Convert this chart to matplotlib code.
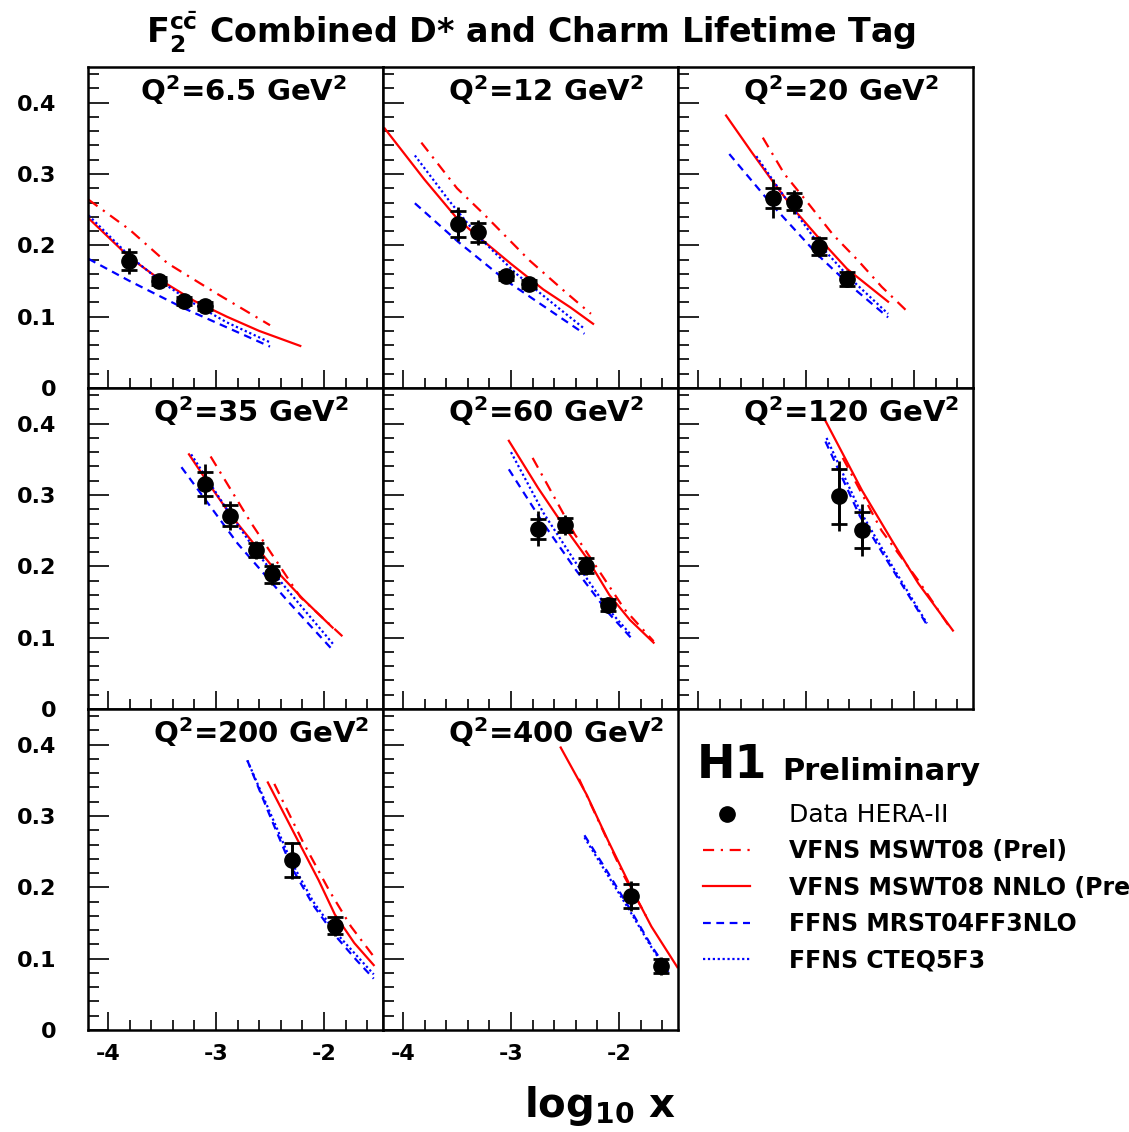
import numpy as np
import matplotlib.pyplot as plt
from matplotlib.ticker import MultipleLocator

plt.rcParams['font.family'] = ['DejaVu Sans']
plt.rcParams['mathtext.fontset'] = 'dejavusans'
plt.rcParams['axes.unicode_minus'] = False

q2_labels = ['6.5', '12', '20', '35', '60', '120', '200', '400']

# H1 data: log10 x, F2cc, stat and total errors
data_x = [[-3.81, -3.53, -3.30, -3.10],
          [-3.49, -3.31, -3.05, -2.83],
          [-3.31, -3.11, -2.88, -2.62],
          [-3.10, -2.87, -2.63, -2.48],
          [-2.75, -2.50, -2.31, -2.10],
          [-2.69, -2.48],
          [-2.30, -1.90],
          [-1.89, -1.61]]
data_y = [[0.178, 0.150, 0.122, 0.115],
          [0.230, 0.218, 0.157, 0.146],
          [0.266, 0.261, 0.198, 0.153],
          [0.315, 0.271, 0.223, 0.189],
          [0.253, 0.258, 0.201, 0.146],
          [0.298, 0.251],
          [0.238, 0.146],
          [0.188, 0.090]]
stat = [[0.012, 0.006, 0.006, 0.006],
        [0.018, 0.013, 0.006, 0.006],
        [0.014, 0.012, 0.012, 0.010],
        [0.017, 0.015, 0.010, 0.012],
        [0.014, 0.010, 0.010, 0.008],
        [0.038, 0.025],
        [0.024, 0.012],
        [0.017, 0.010]]
tot = [[0.018, 0.009, 0.008, 0.008],
       [0.024, 0.017, 0.009, 0.009],
       [0.027, 0.017, 0.015, 0.012],
       [0.028, 0.020, 0.013, 0.015],
       [0.024, 0.014, 0.013, 0.011],
       [0.049, 0.037],
       [0.026, 0.014],
       [0.021, 0.013]]

# VFNS MSWT08 (Prel)
prel_x = [[-4.18, -3.8, -3.45, -3.0, -2.5],
          [-3.83, -3.5, -3.26, -2.83, -2.5, -2.26],
          [-3.40, -3.2, -2.98, -2.75, -2.52, -2.3, -2.06],
          [-3.05, -2.68, -2.22, -1.83],
          [-2.80, -2.41, -1.95, -1.68],
          [-2.66, -2.3, -1.96, -1.68],
          [-2.46, -2.2, -1.95, -1.75, -1.55],
          [-2.37, -2.15, -1.95, -1.75]]
prel_y = [[0.264, 0.222, 0.175, 0.133, 0.088],
          [0.344, 0.280, 0.245, 0.179, 0.135, 0.104],
          [0.351, 0.300, 0.259, 0.215, 0.179, 0.142, 0.107],
          [0.354, 0.262, 0.157, 0.102],
          [0.352, 0.245, 0.140, 0.095],
          [0.352, 0.250, 0.180, 0.117],
          [0.345, 0.265, 0.195, 0.145, 0.105],
          [0.352, 0.280, 0.215, 0.160]]

# VFNS MSWT08 NNLO (Prel)
nnlo_x = [[-4.18, -3.8, -3.5, -3.2, -2.9, -2.6, -2.22],
          [-4.17, -3.8, -3.49, -3.31, -3.0, -2.7, -2.45, -2.24],
          [-3.74, -3.5, -3.31, -3.11, -2.88, -2.62, -2.24],
          [-3.25, -3.10, -2.87, -2.63, -2.48, -2.2, -1.92],
          [-3.02, -2.75, -2.5, -2.3, -2.09, -1.9, -1.68],
          [-2.82, -2.48, -2.2, -1.96, -1.64],
          [-2.52, -2.25, -2.05, -1.9, -1.72, -1.54],
          [-2.54, -2.3, -2.1, -1.89, -1.7, -1.46]]
nnlo_y = [[0.238, 0.183, 0.150, 0.122, 0.100, 0.080, 0.059],
          [0.364, 0.292, 0.236, 0.213, 0.174, 0.138, 0.113, 0.090],
          [0.382, 0.330, 0.290, 0.250, 0.210, 0.167, 0.121],
          [0.357, 0.323, 0.273, 0.228, 0.200, 0.155, 0.114],
          [0.376, 0.310, 0.254, 0.212, 0.160, 0.125, 0.093],
          [0.404, 0.306, 0.235, 0.176, 0.110],
          [0.347, 0.268, 0.210, 0.162, 0.122, 0.091],
          [0.396, 0.330, 0.265, 0.200, 0.145, 0.088]]

# FFNS MRST04FF3NLO
mrst_x = [[-4.18, -3.8, -3.3, -2.9, -2.5],
          [-3.89, -3.49, -3.05, -2.7, -2.32],
          [-3.71, -3.31, -2.88, -2.6, -2.24],
          [-3.32, -2.8, -2.34, -1.91],
          [-3.02, -2.7, -2.4, -2.1, -1.89],
          [-2.82, -2.5, -2.2, -1.88],
          [-2.71, -2.5, -2.3, -2.1, -1.9, -1.7, -1.54],
          [-2.32, -2.1, -1.9, -1.7, -1.54]]
mrst_y = [[0.181, 0.150, 0.112, 0.085, 0.058],
          [0.259, 0.205, 0.151, 0.115, 0.076],
          [0.328, 0.256, 0.185, 0.145, 0.099],
          [0.339, 0.232, 0.152, 0.081],
          [0.336, 0.260, 0.195, 0.135, 0.100],
          [0.375, 0.270, 0.196, 0.118],
          [0.378, 0.300, 0.228, 0.175, 0.133, 0.098, 0.072],
          [0.273, 0.220, 0.170, 0.118, 0.082]]

# FFNS CTEQ5F3
cteq_x = [[-4.18, -3.8, -3.5, -3.2, -2.9, -2.5],
          [-3.89, -3.57, -3.3, -2.95, -2.6, -2.32],
          [-3.46, -3.2, -2.9, -2.6, -2.24],
          [-3.23, -2.9, -2.6, -2.3, -1.91],
          [-3.0, -2.7, -2.4, -2.1, -1.89],
          [-2.81, -2.5, -2.2, -1.88],
          [-2.71, -2.5, -2.3, -2.1, -1.9, -1.54],
          [-2.32, -2.1, -1.9, -1.7, -1.54]]
cteq_y = [[0.242, 0.185, 0.148, 0.118, 0.092, 0.064],
          [0.326, 0.262, 0.212, 0.160, 0.117, 0.083],
          [0.325, 0.268, 0.205, 0.155, 0.104],
          [0.357, 0.280, 0.215, 0.160, 0.090],
          [0.360, 0.275, 0.205, 0.140, 0.104],
          [0.380, 0.278, 0.200, 0.120],
          [0.378, 0.305, 0.235, 0.180, 0.138, 0.078],
          [0.270, 0.216, 0.167, 0.116, 0.080]]

W, H = 1129, 1132
fig = plt.figure(figsize=(W / 100, H / 100), dpi=100)

lw = 1.6
for i in range(8):
    r, c = divmod(i, 3)
    ax = fig.add_axes([(88 + 295 * c) / W, 1 - (67 + 321 * (r + 1)) / H, 295 / W, 321 / H])
    first = (i == 0)
    ax.plot(prel_x[i], prel_y[i], color='red', lw=lw, dashes=(5, 3, 1, 3),
            label='VFNS MSWT08 (Prel)' if first else None)
    ax.plot(nnlo_x[i], nnlo_y[i], color='red', lw=lw, ls='-',
            label='VFNS MSWT08 NNLO (Prel)' if first else None)
    ax.plot(mrst_x[i], mrst_y[i], color='blue', lw=lw, dashes=(3.5, 2.5),
            label='FFNS MRST04FF3NLO' if first else None)
    ax.plot(cteq_x[i], cteq_y[i], color='blue', lw=lw, dashes=(1, 1.2),
            label='FFNS CTEQ5F3' if first else None)
    ax.errorbar(data_x[i], data_y[i], yerr=tot[i], fmt='none', ecolor='black', elinewidth=2, capsize=0, zorder=5)
    ax.errorbar(data_x[i], data_y[i], yerr=stat[i], fmt='none', ecolor='black', elinewidth=2,
                capsize=6, capthick=2, zorder=5)
    ax.plot(data_x[i], data_y[i], 'o', color='black', ms=11, zorder=6,
            label='Data HERA-II' if first else None)

    ax.set_xlim(-4.185, -1.454)
    ax.set_ylim(0, 0.45)
    ax.xaxis.set_major_locator(MultipleLocator(1))
    ax.xaxis.set_minor_locator(MultipleLocator(0.2))
    ax.yaxis.set_major_locator(MultipleLocator(0.1))
    ax.yaxis.set_minor_locator(MultipleLocator(0.02))
    ax.tick_params(which='both', direction='in', top=False, right=False, width=1.2)
    ax.tick_params(axis='y', which='major', length=15)
    ax.tick_params(axis='y', which='minor', length=8)
    ax.tick_params(axis='x', which='major', length=13)
    ax.tick_params(axis='x', which='minor', length=7)
    ax.tick_params(axis='y', pad=23, labelsize=16)
    ax.tick_params(axis='x', pad=10, labelsize=16)
    for sp in ax.spines.values():
        sp.set_linewidth(1.8)
    if c == 0:
        ax.set_yticks([0, 0.1, 0.2, 0.3, 0.4])
        ax.set_yticklabels(['0', '0.1', '0.2', '0.3', '0.4'], fontweight='bold')
    else:
        ax.set_yticklabels([])
    if r == 2:
        ax.set_xticks([-4, -3, -2])
        ax.set_xticklabels(['-4', '-3', '-2'], fontweight='bold')
    else:
        ax.set_xticklabels([])
    lx = 52 / 295 if i == 0 else 65 / 295
    ax.text(lx, 0.928, r'Q$^{\mathbf{2}}$=' + q2_labels[i] + r' GeV$^{\mathbf{2}}$',
            transform=ax.transAxes, fontsize=21, fontweight='bold', va='center', ha='left')
    if first:
        handles, labels = ax.get_legend_handles_labels()

order = ['Data HERA-II', 'VFNS MSWT08 (Prel)', 'VFNS MSWT08 NNLO (Prel)', 'FFNS MRST04FF3NLO', 'FFNS CTEQ5F3']
hmap = dict(zip(labels, handles))
leg = fig.legend([hmap[k] for k in order], order, loc='upper left', bbox_to_anchor=(703 / W, 1 - 803 / H),
                 frameon=False, fontsize=17, handlelength=2.0, handletextpad=1.65, labelspacing=0.52,
                 borderpad=0, borderaxespad=0)
texts = leg.get_texts()
texts[0].set_fontsize(18)
for t in texts[1:]:
    t.set_fontweight('bold')

fig.text(697 / W, 1 - 765 / H, 'H1', fontsize=33, fontweight='bold', va='center', ha='left')
fig.text(782 / W, 1 - 771 / H, 'Preliminary', fontsize=22, fontweight='bold', va='center', ha='left')

fig.text(531 / W, 1 - 32 / H, r'F$_{\mathbf{2}}^{\mathbf{c\bar{c}}}$ Combined D* and Charm Lifetime Tag',
         fontsize=24, fontweight='bold', ha='center', va='center')
fig.text(600 / W, 1 - 1106 / H, r'log$_{\mathbf{10}}$ x', fontsize=29, fontweight='bold', ha='center', va='center')

fig.savefig('out.png', dpi=100)
